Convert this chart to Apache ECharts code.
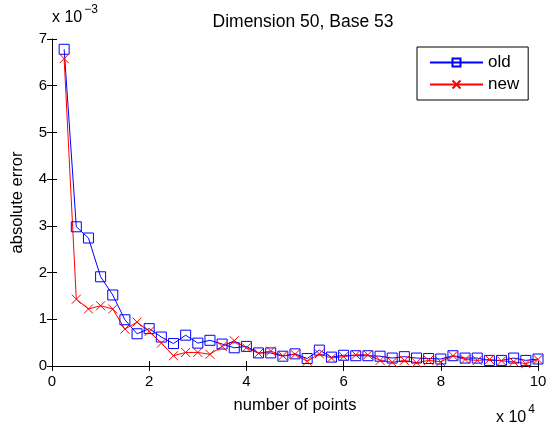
<!DOCTYPE html>
<html>
<head>
<meta charset="utf-8">
<script src="https://cdn.jsdelivr.net/npm/echarts@6/dist/echarts.min.js"></script>
<style>
  html, body { margin: 0; padding: 0; background: #fff; }
  #chart { width: 552px; height: 429px; }
</style>
</head>
<body>
<div id="chart"></div>
<script>
// Number of sample points per run
const pointCounts = [
  2500, 5000, 7500, 10000, 12500, 15000, 17500, 20000, 22500, 25000,
  27500, 30000, 32500, 35000, 37500, 40000, 42500, 45000, 47500, 50000,
  52500, 55000, 57500, 60000, 62500, 65000, 67500, 70000, 72500, 75000,
  77500, 80000, 82500, 85000, 87500, 90000, 92500, 95000, 97500, 100000
];

// Absolute error, in units of 1e-3
const oldError = [
  6.78, 2.98, 2.74, 1.91, 1.52, 0.99, 0.69, 0.80, 0.62, 0.48,
  0.66, 0.49, 0.55, 0.47, 0.39, 0.42, 0.28, 0.28, 0.21, 0.26,
  0.16, 0.34, 0.19, 0.23, 0.22, 0.22, 0.21, 0.17, 0.20, 0.17,
  0.16, 0.15, 0.22, 0.17, 0.17, 0.12, 0.12, 0.17, 0.12, 0.15
];
const newError = [
  6.58, 1.43, 1.22, 1.29, 1.22, 0.79, 0.94, 0.74, 0.49, 0.22,
  0.29, 0.29, 0.25, 0.42, 0.54, 0.39, 0.27, 0.32, 0.22, 0.25,
  0.10, 0.26, 0.17, 0.20, 0.24, 0.24, 0.12, 0.08, 0.12, 0.07,
  0.12, 0.09, 0.22, 0.14, 0.12, 0.14, 0.11, 0.09, 0.05, 0.14
];

const xTicks = [0, 2, 4, 6, 8, 10];      // x 10^4
const yTicks = [0, 1, 2, 3, 4, 5, 6, 7]; // x 10^-3

const FONT = '"Liberation Sans", Arial, Helvetica, sans-serif';
const chart = echarts.init(document.getElementById('chart'), null, { renderer: 'canvas' });

const pairs = (ys) => pointCounts.map((n, i) => [n / 1e4, ys[i]]);

const crossPath = 'path://M0,0L10,10M10,0L0,10';

function axisCommon(show) {
  return {
    axisLine: { show: true, lineStyle: { color: '#000', width: 1 } },
    axisTick: { show: true, inside: true, length: 5, lineStyle: { color: '#000', width: 1 } },
    splitLine: { show: false },
    axisLabel: { show: show, color: '#000', fontFamily: FONT, fontSize: 15 }
  };
}

const supRich = {
  b: { fontFamily: FONT, fontSize: 16, fill: '#000', verticalAlign: 'bottom', lineHeight: 22 },
  s: { fontFamily: FONT, fontSize: 12, fill: '#000', verticalAlign: 'top', lineHeight: 22, padding: [0, 0, 10, 2] }
};

const option = {
  backgroundColor: '#fff',
  animation: false,
  title: {
    text: 'Dimension 50, Base 53',
    left: 298, top: 8, textAlign: 'center',
    textStyle: { fontFamily: FONT, fontSize: 17.5, fontWeight: 'normal', color: '#000' }
  },
  grid: { left: 52, right: 14, top: 39, bottom: 63 },
  legend: {
    orient: 'vertical',
    left: 417, top: 47,
    padding: [7, 9, 7, 12],
    itemWidth: 53, itemHeight: 10, itemGap: 5,
    backgroundColor: '#fff',
    borderColor: '#000', borderWidth: 1, borderRadius: 0,
    textStyle: { fontFamily: FONT, fontSize: 17, color: '#000' },
    data: ['old', 'new']
  },
  xAxis: [
    Object.assign({
      type: 'value', min: 0, max: 10, interval: 2,
      name: 'number of points', nameLocation: 'middle', nameGap: 31,
      nameTextStyle: { fontFamily: FONT, fontSize: 16.5, color: '#000' }
    }, axisCommon(true), {
      axisLabel: { show: true, color: '#000', fontFamily: FONT, fontSize: 15, margin: 8,
        formatter: (v) => xTicks.indexOf(v) >= 0 ? String(v) : '' }
    }),
    Object.assign({ type: 'value', min: 0, max: 10, interval: 2, position: 'top' }, axisCommon(false))
  ],
  yAxis: [
    Object.assign({
      type: 'value', min: 0, max: 7, interval: 1,
      name: 'absolute error', nameLocation: 'middle', nameGap: 26,
      nameTextStyle: { fontFamily: FONT, fontSize: 16.5, color: '#000' }
    }, axisCommon(true), {
      axisLabel: { show: true, color: '#000', fontFamily: FONT, fontSize: 15, margin: 5,
        formatter: (v) => yTicks.indexOf(v) >= 0 ? String(v) : '' }
    }),
    Object.assign({ type: 'value', min: 0, max: 7, interval: 1, position: 'right' }, axisCommon(false))
  ],
  series: [
    {
      name: 'old', type: 'line', data: pairs(oldError),
      symbol: 'rect', symbolSize: 10, showAllSymbol: true,
      lineStyle: { color: '#0000ff', width: 1 },
      itemStyle: { color: 'rgba(0,0,0,0)', borderColor: '#0000ff', borderWidth: 1 },
      emphasis: { disabled: true }
    },
    {
      name: 'new', type: 'line', data: pairs(newError),
      symbol: crossPath, symbolSize: 9, showAllSymbol: true,
      lineStyle: { color: '#ff0000', width: 1 },
      itemStyle: { color: 'rgba(0,0,0,0)', borderColor: '#ff0000', borderWidth: 1 },
      emphasis: { disabled: true }
    }
  ],
  graphic: [
    {
      type: 'text', left: 52, top: 4,
      style: { text: '{b|x 10}{s|−3}', rich: supRich }
    },
    {
      type: 'text', left: 496, top: 404,
      style: { text: '{b|x 10}{s|4}', rich: supRich }
    }
  ]
};

chart.setOption(option);
</script>
</body>
</html>
